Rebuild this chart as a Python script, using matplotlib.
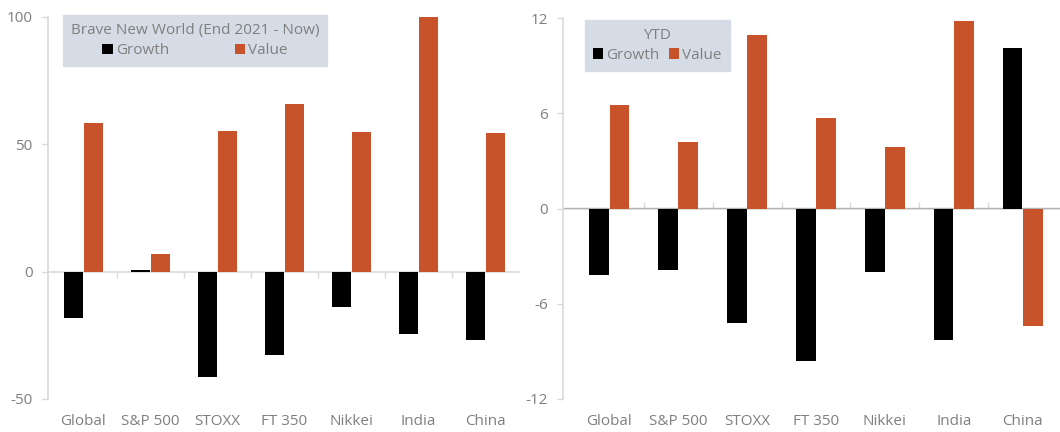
import matplotlib
matplotlib.use("Agg")
import matplotlib.pyplot as plt
import numpy as np

categories = ["Global", "S&P 500", "STOXX", "FT 350", "Nikkei", "India", "China"]
bnw_growth = [-18.1, 0.8, -41.4, -32.6, -14.0, -24.4, -27.0]
bnw_value = [58.2, 6.9, 55.2, 65.9, 55.0, 100.0, 54.3]
ytd_growth = [-4.2, -3.9, -7.2, -9.6, -4.0, -8.3, 10.1]
ytd_value = [6.5, 4.2, 10.9, 5.7, 3.9, 11.8, -7.4]
left_title = "Brave New World (End 2021 - Now)"
right_title = "YTD"
left_ticks = [-50, 0, 50, 100]
right_ticks = [-12, -6, 0, 6, 12]

plt.rcParams['font.family'] = ['Open Sans', 'DejaVu Sans']

ORANGE = "#C8532B"
BLACK = "#000000"
GREY_TXT = "#7F7F7F"
AXIS = "#D9D9D9"
LEG_BG = "#D6DCE5"

fig = plt.figure(figsize=(10.6, 4.32), dpi=100)
W, H = 1060, 432


def make_axes(x0, x1, y0, y1):
    return fig.add_axes([x0 / W, 1 - y1 / H, (x1 - x0) / W, (y1 - y0) / H])


def draw(ax, growth, value, ticks, ylim, xlim, title, leg_anchor, colspace, tsize):
    x = np.arange(len(categories))
    w = 0.285
    ax.bar(x - 0.148, growth, w, color=BLACK, label="Growth", zorder=3)
    ax.bar(x + 0.148, value, w, color=ORANGE, label="Value", zorder=3)
    ax.set_xlim(*xlim)
    ax.set_ylim(*ylim)
    ax.set_yticks(ticks)
    ax.set_yticklabels([str(t) for t in ticks])
    ax.axhline(0, color=AXIS, lw=1.2, zorder=2)
    for s in ["top", "right", "bottom"]:
        ax.spines[s].set_visible(False)
    ax.spines["left"].set_color(AXIS)
    ax.spines["left"].set_linewidth(1.2)
    ax.tick_params(axis="y", colors=AXIS, labelcolor=GREY_TXT, labelsize=11,
                   length=4, width=1.0, pad=7)
    ax.set_xticks(x)
    ax.set_xticklabels(categories)
    ax.tick_params(axis="x", length=0, labelcolor=GREY_TXT, labelsize=11, pad=11)
    # boundary tick marks on the zero line
    zero_frac = (0 - ylim[0]) / (ylim[1] - ylim[0])
    sec = ax.secondary_xaxis(zero_frac)
    sec.set_xticks(x[:-1] + 0.5)
    sec.set_xticklabels([])
    sec.tick_params(axis="x", length=4, width=1.0, colors=AXIS, direction="out")
    sec.spines["bottom"].set_visible(False)
    leg = ax.legend(loc="upper left", bbox_to_anchor=leg_anchor, ncol=2,
                    title=title, frameon=True, facecolor=LEG_BG, edgecolor=LEG_BG,
                    fancybox=False, framealpha=1.0, fontsize=11,
                    title_fontsize=tsize, handlelength=0.7, handleheight=0.7,
                    handletextpad=0.2, columnspacing=colspace, borderaxespad=0,
                    borderpad=0.5, labelspacing=0.2)
    leg._legend_box.sep = 4
    for t in leg.get_texts():
        t.set_color(GREY_TXT)
    leg.get_title().set_color(GREY_TXT)
    leg.set_zorder(5)


axL = make_axes(48, 520, 17, 399)
draw(axL, bnw_growth, bnw_value, left_ticks, (-50, 100), (-0.53, 6.52),
     left_title, (0.032, 1.005), 4.3, 11)

axR = make_axes(563, 1060, 18, 399)
draw(axR, ytd_growth, ytd_value, right_ticks, (-12, 12), (-0.67, 6.54),
     right_title, (0.044, 0.995), 0.6, 11)

fig.savefig("out.png", dpi=100, facecolor="white")
